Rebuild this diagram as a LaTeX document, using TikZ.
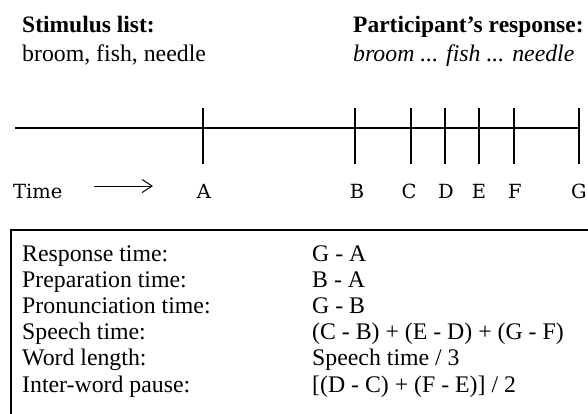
\documentclass[tikz,border=0pt]{standalone}
\usepackage{fontspec}
\setmainfont{Liberation Serif}
\newfontfamily\axisfont{DejaVu Serif}
\usetikzlibrary{arrows.meta}
\begin{document}
\begin{tikzpicture}[x=1pt,y=-1pt,
  txt/.style={inner sep=0pt,anchor=base west,font=\fontsize{23.8}{28}\selectfont},
  ttl/.style={txt,font=\fontsize{23.5}{28}\selectfont\bfseries},
  lbl/.style={inner sep=0pt,anchor=base,font=\axisfont\fontsize{19.5}{23}\selectfont},
  axis/.style={line width=1.4pt},
  tick/.style={line width=1.4pt},
  frame/.style={line width=1.2pt}]
\useasboundingbox (0,0) rectangle (588,413);

% header texts
\node[ttl] (stimtitle) at (22,32) {Stimulus list:};
\node[txt] (stimlist) at (22,61) {broom, fish, needle};
\node[ttl] (resptitle) at (353,32) {Participant’s response:};
\node[txt] (resplist) at (353,61) {\itshape broom ... fish ... needle};

% time axis
\coordinate (axL) at (15,128);
\coordinate (axR) at (579,128);
\draw[axis] (axL) -- (axR);
\foreach \n/\x in {A/203,B/355,C/411,D/445,E/479,F/514,G/579}{
  \coordinate (top\n) at (\x,108);
  \coordinate (bot\n) at (\x,164);
  \draw[tick] (top\n) -- (bot\n);
}
\foreach \n/\x in {A/204,B/357,C/409,D/446,E/479,F/515,G/579}{
  \node[lbl] (lab\n) at (\x,198) {\n};
}
\node[lbl,anchor=base west] (time) at (13,198) {Time};
\coordinate (arS) at (94,186);
\coordinate (arE) at (153,186);
\draw[line width=1pt,-{Straight Barb[length=10pt,width=13pt,line width=1pt]}] (arS) -- (arE);

% definitions box (runs past the right and bottom edges)
\coordinate (boxTL) at (11,230);
\draw[frame] (600,230) -- (boxTL) -- (11,430);

\foreach \i/\a/\b in {0/{Response time:}/{G - A},
                      1/{Preparation time:}/{B - A},
                      2/{Pronunciation time:}/{G - B},
                      3/{Speech time:}/{(C - B) + (E - D) + (G - F)},
                      4/{Word length:}/{Speech time / 3},
                      5/{Inter-word pause:}/{[(D - C) + (F - E)] / 2}}{
  \node[txt] (term\i) at (22,{261+26.2*\i}) {\a};
  \node[txt] (def\i) at (312,{261+26.2*\i}) {\b};
}
\end{tikzpicture}
\end{document}
